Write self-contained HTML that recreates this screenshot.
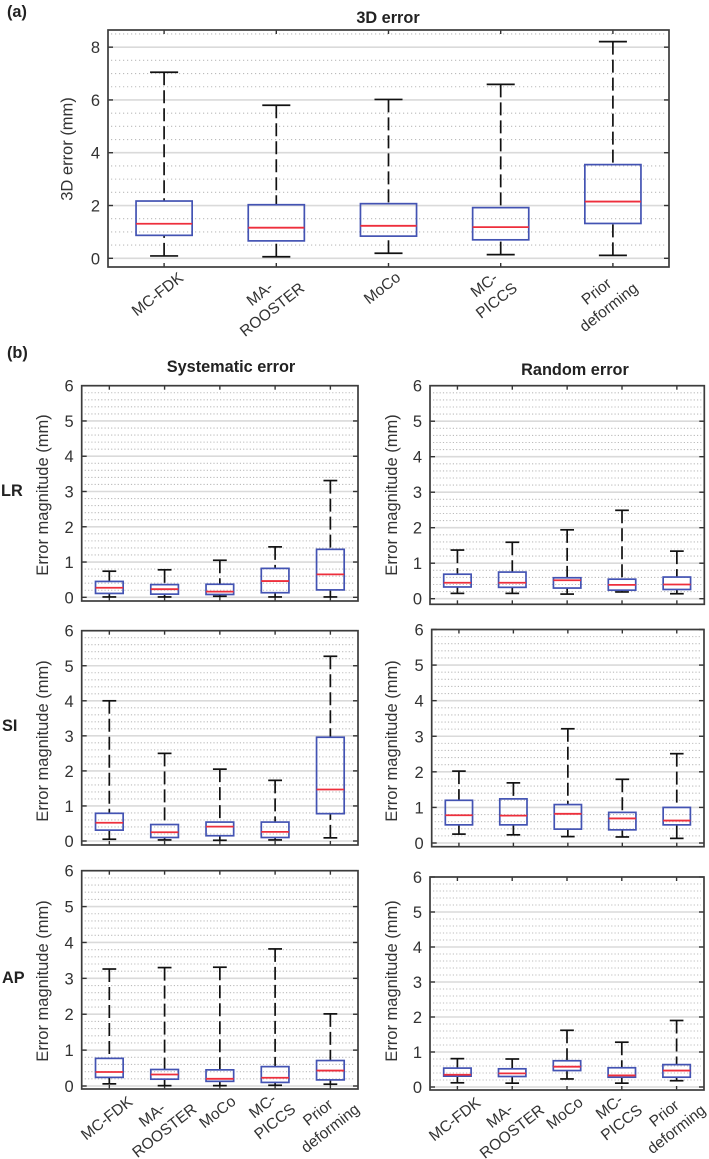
<!DOCTYPE html>
<html lang="en">
<head>
<meta charset="utf-8">
<title>3D, systematic and random error box plots</title>
<style>
html,body{margin:0;padding:0;background:#fff;}
svg{display:block;font-family:"Liberation Sans",Arial,sans-serif;}
.tick{font-size:16.5px;fill:#333;}
.axt{font-size:16.5px;fill:#333;}
.cat{font-size:15.5px;fill:#333;}
.ttl{font-size:16.3px;font-weight:bold;fill:#222;}
</style>
</head>
<body>
<svg id="fig" xmlns="http://www.w3.org/2000/svg" width="709" height="1159" viewBox="0 0 709 1159">
<rect width="709" height="1159" fill="#fff"/>
<text class="ttl" x="7" y="17">(a)</text>
<text class="ttl" x="7" y="358">(b)</text>
<text class="ttl" x="388" y="23" text-anchor="middle">3D error</text>
<text class="ttl" x="231" y="372" text-anchor="middle">Systematic error</text>
<text class="ttl" x="575" y="375" text-anchor="middle">Random error</text>
<text class="ttl" x="1" y="496">LR</text>
<text class="ttl" x="2" y="731">SI</text>
<text class="ttl" x="2" y="983">AP</text>
</svg>
<script>
const categories=[['MC-FDK'],['MA-','ROOSTER'],['MoCo'],['MC-','PICCS'],['Prior','deforming']];
const ticksTop=[0,2,4,6,8];
const ticksBottom=[0,1,2,3,4,5,6];

const err3dHi=[7.05,5.8,6.02,6.59,8.21];
const err3dQ3=[2.17,2.03,2.07,1.92,3.55];
const err3dMed=[1.31,1.16,1.23,1.18,2.15];
const err3dQ1=[0.87,0.66,0.84,0.70,1.32];
const err3dLo=[0.09,0.06,0.19,0.14,0.11];

const sysLrHi=[0.74,0.78,1.05,1.43,3.31];
const sysLrQ3=[0.45,0.36,0.37,0.82,1.36];
const sysLrMed=[0.27,0.23,0.16,0.46,0.65];
const sysLrQ1=[0.11,0.09,0.08,0.13,0.21];
const sysLrLo=[0.01,0.01,0.03,0.01,0.01];

const sysSiHi=[4.0,2.5,2.05,1.73,5.27];
const sysSiQ3=[0.79,0.47,0.54,0.54,2.96];
const sysSiMed=[0.52,0.25,0.41,0.26,1.47];
const sysSiQ1=[0.31,0.10,0.15,0.10,0.78];
const sysSiLo=[0.05,0.03,0.02,0.03,0.09];

const sysApHi=[3.26,3.3,3.31,3.82,2.01];
const sysApQ3=[0.77,0.46,0.45,0.54,0.71];
const sysApMed=[0.39,0.32,0.20,0.23,0.43];
const sysApQ1=[0.24,0.19,0.13,0.10,0.17];
const sysApLo=[0.06,0.01,0.01,0.02,0.05];

const rndLrHi=[1.37,1.59,1.94,2.49,1.34];
const rndLrQ3=[0.69,0.75,0.59,0.55,0.61];
const rndLrMed=[0.45,0.45,0.52,0.39,0.40];
const rndLrQ1=[0.33,0.32,0.30,0.24,0.26];
const rndLrLo=[0.15,0.15,0.13,0.19,0.14];

const rndSiHi=[2.02,1.69,3.21,1.79,2.51];
const rndSiQ3=[1.20,1.24,1.08,0.86,1.0];
const rndSiMed=[0.78,0.77,0.82,0.69,0.63];
const rndSiQ1=[0.51,0.51,0.39,0.37,0.51];
const rndSiLo=[0.25,0.23,0.18,0.17,0.13];

const rndApHi=[0.81,0.80,1.62,1.28,1.90];
const rndApQ3=[0.54,0.52,0.75,0.55,0.64];
const rndApMed=[0.35,0.39,0.58,0.33,0.47];
const rndApQ1=[0.31,0.30,0.47,0.28,0.28];
const rndApLo=[0.12,0.11,0.23,0.11,0.18];

const NS='http://www.w3.org/2000/svg';
const fig=document.getElementById('fig');

function mk(parent,tag,attrs){
  const el=document.createElementNS(NS,tag);
  for(const k in attrs){el.setAttribute(k,attrs[k]);}
  parent.appendChild(el);
  return el;
}
function line(parent,x1,y1,x2,y2,color,w,dash){
  const el=mk(parent,'line',{x1:x1,y1:y1,x2:x2,y2:y2,stroke:color,'stroke-width':w});
  if(dash){el.setAttribute('stroke-dasharray',dash);}
  return el;
}

function drawPanel(id,g,hi,q3,med,q1,lo){
  const root=mk(fig,'g',{});
  
  
  const step=(g.right-g.left)/categories.length;
  const xAxis=function(i){return g.left+(i+0.5)*step;};
  const yAxis=function(v){return g.y0-v*(g.y0-g.top)/g.ymax;};

  const grid=mk(root,'g',{});
  
  
  for(let m=0;m<=g.ymax/g.minor+0.001;m++){
    const v=m*g.minor;
    const isMajor=g.ticks.indexOf(Math.round(v*1000)/1000)>=0;
    if(isMajor){
      line(grid,g.left+1,yAxis(v),g.right-1,yAxis(v),'#dadada',1.6);
    }else{
      line(grid,g.left+3,yAxis(v),g.right-3,yAxis(v),'#bcbcbc',1.1,'1.2 '+g.dot);
    }
  }
  g.ticks.forEach(function(t){
    const y=yAxis(t);
    line(root,g.left,y,g.left+5,y,'#333',1.4);
    line(root,g.right,y,g.right-5,y,'#333',1.4);
    const lab=mk(root,'text',{x:g.left-8,y:y+6,'text-anchor':'end','class':'tick'});
    lab.textContent=String(t);
    
    
  });

  categories.forEach(function(lines,i){
    const x=xAxis(i);
    const bh=step*0.25;
    const ch=step*0.125;
    line(root,x,g.top,x,g.top+4,'#333',1.4);
    line(root,x,g.bottom,x,g.bottom-4,'#333',1.4);

    const box=mk(root,'g',{});
    
    
    line(box,x,yAxis(hi[i]),x,yAxis(q3[i]),'#111',1.7,'13 5');
    line(box,x,yAxis(lo[i]),x,yAxis(q1[i]),'#111',1.7,'13 5');
    line(box,x-ch,yAxis(hi[i]),x+ch,yAxis(hi[i]),'#111',1.7);
    line(box,x-ch,yAxis(lo[i]),x+ch,yAxis(lo[i]),'#111',1.7);
    mk(box,'rect',{x:x-bh,y:yAxis(q3[i]),width:bh*2,height:yAxis(q1[i])-yAxis(q3[i]),fill:'#ffffff','fill-opacity':0,stroke:'#4353b3','stroke-width':1.7});
    line(box,x-bh,yAxis(med[i]),x+bh,yAxis(med[i]),'#ee2f3c',1.8);

    if(g.showLabels){
      const lg=mk(root,'g',{});
      
      
      lines.forEach(function(s,k){
        const t=mk(lg,'text',{x:0,y:k*20,'text-anchor':'middle','class':'cat'});
        t.textContent=s;
      });
      lg.setAttribute('transform','rotate(-38)');
      const rc=lg.getBoundingClientRect();
      const two=lines.length>1;
      const tx=x+g.labelShift-(rc.left+rc.right)/2+(two?g.twoDx:0);
      const ty=g.bottom+g.labelGap-rc.top+(two?g.twoDy:0);
      lg.setAttribute('transform','translate('+tx+' '+ty+') rotate(-38)');
    }
  });

  mk(root,'rect',{x:g.left,y:g.top,width:g.right-g.left,height:g.bottom-g.top,fill:'none',stroke:'#3c3c3c','stroke-width':1.7});

  const yl=mk(root,'text',{x:0,y:0,'text-anchor':'middle','class':'axt',transform:'translate('+g.labelX+' '+g.labelY+') rotate(-90)'});
  yl.textContent=g.yTitle;
  
  
}

const em='Error magnitude (mm)';
drawPanel('3d-error',{left:108,right:669,top:30,bottom:267,y0:258.3,ymax:8.65,minor:0.5,dot:2.8,ticks:ticksTop,showLabels:true,labelShift:-6,labelGap:2,twoDx:-4,twoDy:-5,labelX:72.5,labelY:149,yTitle:'3D error (mm)'},err3dHi,err3dQ3,err3dMed,err3dQ1,err3dLo);
drawPanel('systematic-lr',{left:81.7,right:358,top:385.7,bottom:601,y0:597.3,ymax:6,minor:0.2,dot:2.1,ticks:ticksBottom,showLabels:false,labelX:48,labelY:495,yTitle:em},sysLrHi,sysLrQ3,sysLrMed,sysLrQ1,sysLrLo);
drawPanel('systematic-si',{left:81.7,right:358,top:630.7,bottom:845,y0:841,ymax:6,minor:0.2,dot:2.1,ticks:ticksBottom,showLabels:false,labelX:48,labelY:741,yTitle:em},sysSiHi,sysSiQ3,sysSiMed,sysSiQ1,sysSiLo);
drawPanel('systematic-ap',{left:81.7,right:358,top:870.7,bottom:1089,y0:1086,ymax:6,minor:0.2,dot:2.1,ticks:ticksBottom,showLabels:true,labelShift:-2,labelGap:4,twoDx:-4,twoDy:-8,labelX:48,labelY:981,yTitle:em},sysApHi,sysApQ3,sysApMed,sysApQ1,sysApLo);
drawPanel('random-lr',{left:430,right:704.3,top:385.7,bottom:604.3,y0:598.7,ymax:6,minor:0.2,dot:2.1,ticks:ticksBottom,showLabels:false,labelX:397,labelY:495,yTitle:em},rndLrHi,rndLrQ3,rndLrMed,rndLrQ1,rndLrLo);
drawPanel('random-si',{left:431.7,right:704,top:629.5,bottom:846.7,y0:843,ymax:6,minor:0.2,dot:2.1,ticks:ticksBottom,showLabels:false,labelX:397,labelY:741,yTitle:em},rndSiHi,rndSiQ3,rndSiMed,rndSiQ1,rndSiLo);
drawPanel('random-ap',{left:430,right:704,top:877,bottom:1090,y0:1087,ymax:6,minor:0.2,dot:2.1,ticks:ticksBottom,showLabels:true,labelShift:-2,labelGap:4,twoDx:-4,twoDy:-8,labelX:397,labelY:981,yTitle:em},rndApHi,rndApQ3,rndApMed,rndApQ1,rndApLo);
</script>
</body>
</html>
